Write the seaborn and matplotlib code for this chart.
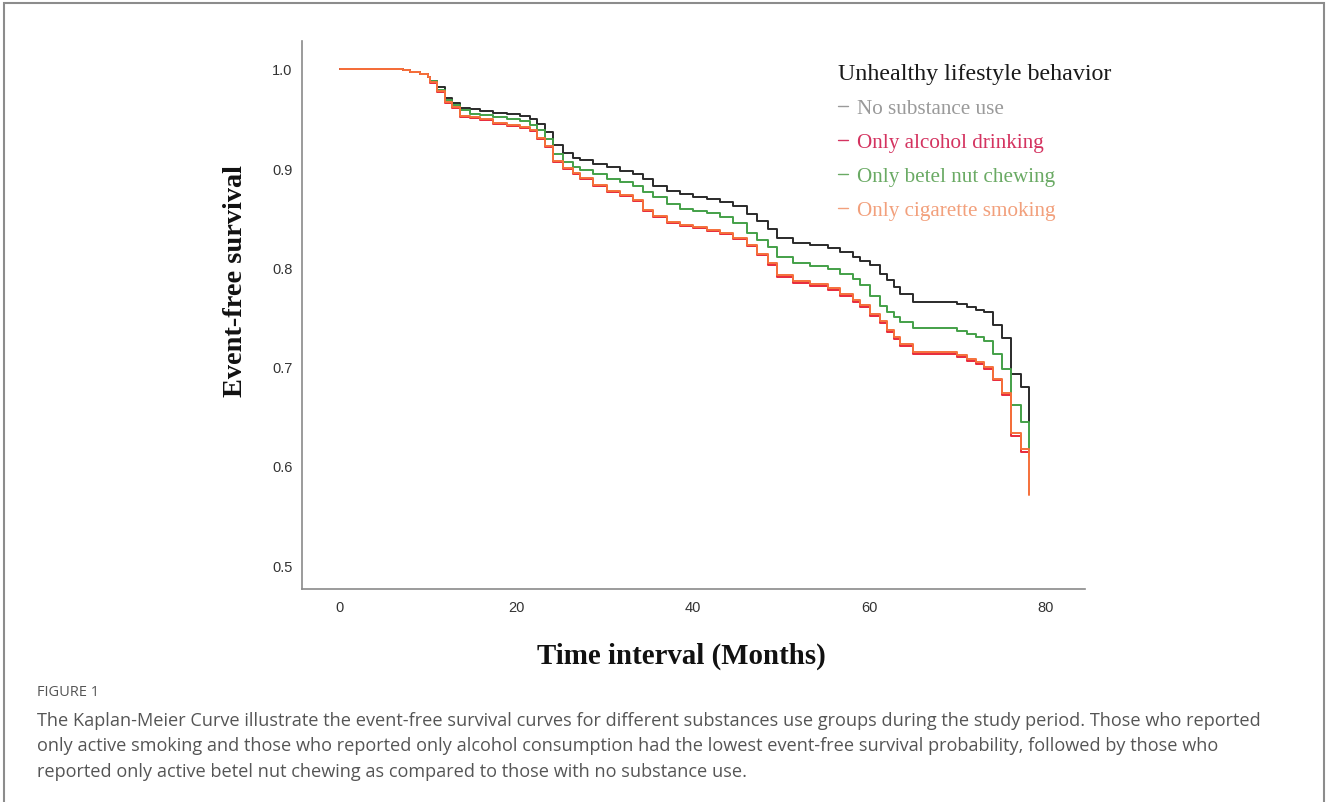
import numpy as np
import pandas as pd
import seaborn as sns
import matplotlib.pyplot as plt
from matplotlib.lines import Line2D
from matplotlib.patches import Rectangle

# event times (months) and survival
months = [0, 7.1, 7.9, 9.1, 10.0, 10.2, 11.0, 11.9, 12.7, 13.6, 14.8, 15.9, 17.4, 19.0, 20.4,
          21.6, 22.4, 23.3, 24.2, 25.3, 26.4, 27.2, 28.7, 30.3, 31.8, 33.2, 34.4, 35.5, 37.1, 38.6,
          40.1, 41.6, 43.1, 44.6, 46.2, 47.3, 48.5, 49.6, 51.4, 53.3, 55.3, 56.7, 58.2, 59.0, 60.1,
          61.3, 62.1, 62.8, 63.5, 65.0, 70.0, 71.1, 72.1, 73.0, 74.1, 75.1, 76.1, 77.2, 78.1]

no_use = [1.0, 0.999, 0.997, 0.995, 0.992, 0.988, 0.982, 0.971, 0.966, 0.961, 0.959, 0.957, 0.955, 0.954, 0.952,
          0.949, 0.944, 0.936, 0.923, 0.915, 0.910, 0.908, 0.904, 0.901, 0.897, 0.894, 0.889, 0.882, 0.877, 0.874,
          0.871, 0.869, 0.866, 0.862, 0.854, 0.847, 0.839, 0.830, 0.825, 0.822, 0.819, 0.815, 0.810, 0.806, 0.802,
          0.793, 0.787, 0.780, 0.773, 0.765, 0.763, 0.760, 0.757, 0.755, 0.742, 0.729, 0.693, 0.679, 0.644]

betel = [1.0, 0.999, 0.997, 0.995, 0.992, 0.988, 0.979, 0.969, 0.964, 0.958, 0.954, 0.953, 0.951, 0.949, 0.947,
         0.943, 0.938, 0.929, 0.914, 0.906, 0.901, 0.898, 0.894, 0.889, 0.886, 0.882, 0.876, 0.871, 0.864, 0.859,
         0.857, 0.855, 0.851, 0.845, 0.835, 0.828, 0.820, 0.810, 0.804, 0.801, 0.798, 0.793, 0.788, 0.782, 0.771,
         0.761, 0.755, 0.750, 0.745, 0.739, 0.736, 0.733, 0.730, 0.726, 0.713, 0.698, 0.661, 0.644, 0.614]

alcohol = [1.0, 0.999, 0.997, 0.995, 0.992, 0.986, 0.977, 0.966, 0.961, 0.951, 0.950, 0.948, 0.944, 0.942, 0.940,
           0.937, 0.929, 0.921, 0.906, 0.899, 0.894, 0.889, 0.882, 0.876, 0.872, 0.867, 0.857, 0.851, 0.845, 0.842,
           0.840, 0.837, 0.834, 0.829, 0.821, 0.812, 0.802, 0.790, 0.784, 0.781, 0.777, 0.771, 0.765, 0.760, 0.751,
           0.744, 0.735, 0.728, 0.721, 0.713, 0.710, 0.706, 0.703, 0.698, 0.686, 0.671, 0.630, 0.614, 0.609]

cigarette = [1.0, 0.999, 0.997, 0.995, 0.992, 0.987, 0.978, 0.967, 0.962, 0.952, 0.951, 0.949, 0.945, 0.943, 0.941,
             0.938, 0.930, 0.922, 0.907, 0.900, 0.895, 0.890, 0.883, 0.877, 0.873, 0.868, 0.858, 0.852, 0.846, 0.843,
             0.841, 0.838, 0.835, 0.830, 0.822, 0.813, 0.804, 0.792, 0.786, 0.783, 0.779, 0.773, 0.767, 0.762, 0.753,
             0.746, 0.737, 0.730, 0.723, 0.715, 0.712, 0.708, 0.705, 0.700, 0.688, 0.673, 0.633, 0.617, 0.571]

groups = ['No substance use', 'Only betel nut chewing', 'Only alcohol drinking', 'Only cigarette smoking']
line_colors = ['#2a2a2a', '#43a047', '#e8293a', '#f5703a']
legend_order = ['No substance use', 'Only alcohol drinking', 'Only betel nut chewing', 'Only cigarette smoking']
legend_colors = ['#9a9a9a', '#d43360', '#6aaa64', '#f2a07c']

y_ticks = [0.5, 0.6, 0.7, 0.8, 0.9, 1.0]
x_ticks = [0, 20, 40, 60, 80]

df = pd.concat([
    pd.DataFrame({'Months': months, 'Survival': vals, 'Group': g})
    for g, vals in zip(groups, [no_use, betel, alcohol, cigarette])
])

sns.set_style('white')
fig = plt.figure(figsize=(13.28, 8.03), dpi=100)
ax = fig.add_axes([0.2274, 0.2653, 0.5896, 0.6824])

sns.lineplot(data=df, x='Months', y='Survival', hue='Group', hue_order=groups,
             palette=line_colors, estimator=None, drawstyle='steps-post',
             linewidth=1.4, legend=False, ax=ax)

ax.set_xlim(-4.3, 84.5)
ax.set_ylim(0.476, 1.028)
ax.set_xticks(x_ticks)
ax.set_yticks(y_ticks)
ax.set_yticklabels([f'{v:.1f}' for v in y_ticks])
ax.tick_params(length=0, labelsize=10.5, labelcolor='#333333')
ax.tick_params(axis='x', pad=8)
ax.tick_params(axis='y', pad=7)
for lab in ax.get_xticklabels() + ax.get_yticklabels():
    lab.set_fontfamily('Liberation Sans')
sns.despine(ax=ax)
for s in ['left', 'bottom']:
    ax.spines[s].set_color('#8a8a8a')
    ax.spines[s].set_linewidth(1.2)

ax.set_xlabel('Time interval (Months)', fontfamily='Liberation Serif', fontweight='bold',
              fontsize=20.8, color='#111111')
ax.xaxis.set_label_coords(0.485, -0.097)
ax.set_ylabel('Event-free survival', fontfamily='Liberation Serif', fontweight='bold',
              fontsize=20.4, color='#111111')
ax.yaxis.set_label_coords(-0.069, 0.564)

handles = [Line2D([0], [0], color=c, lw=1.0) for c in legend_colors]
leg = ax.legend(handles, legend_order, title='Unhealthy lifestyle behavior',
                loc='upper left', bbox_to_anchor=(0.66, 0.994), frameon=False,
                handlelength=0.5, handletextpad=0.4, labelspacing=0.67,
                alignment='left', prop={'family': 'Liberation Serif', 'size': 15.2},
                title_fontproperties={'family': 'Liberation Serif', 'size': 17.3})
for txt, c in zip(leg.get_texts(), legend_colors):
    txt.set_color(c)
leg.get_title().set_color('#1a1a1a')

# outer frame and caption
fig.patches.append(Rectangle((0.003, -0.01), 0.994, 1.005, transform=fig.transFigure,
                             fill=False, edgecolor='#8c8c8c', linewidth=1.5))
fig.text(0.028, 1 - 693 / 803, 'FIGURE 1', fontfamily='Open Sans', fontsize=10.5,
         color='#555555', va='center')
caption = ('The Kaplan-Meier Curve illustrate the event-free survival curves for different substances use groups during the study period. Those who reported\n'
           'only active smoking and those who reported only alcohol consumption had the lowest event-free survival probability, followed by those who\n'
           'reported only active betel nut chewing as compared to those with no substance use.')
fig.text(0.028, 1 - 712 / 803, caption, fontfamily='Open Sans', fontsize=13.1,
         color='#555555', va='top', linespacing=1.53)

fig.savefig('out.png', dpi=100)
